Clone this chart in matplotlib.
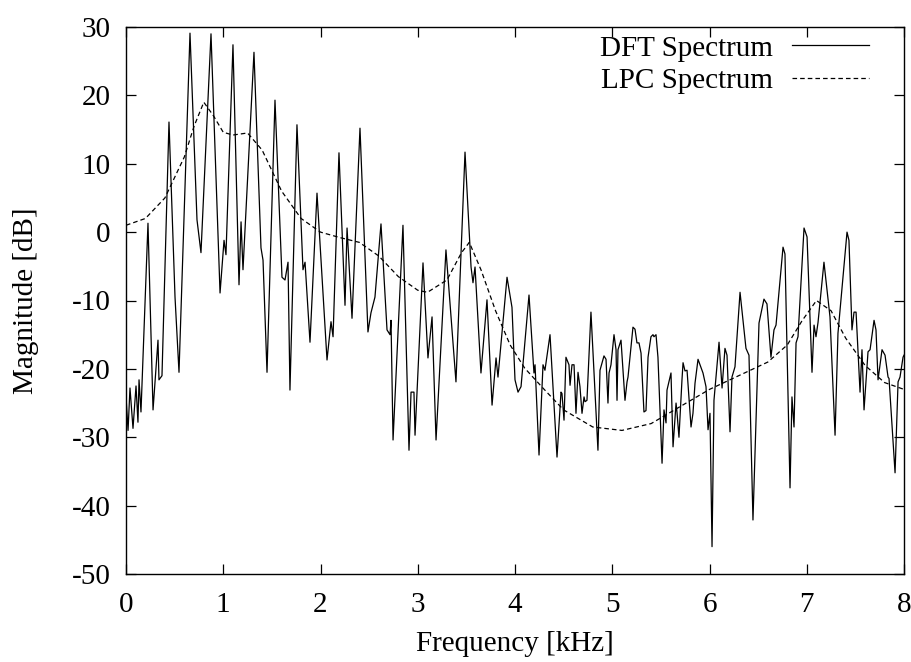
import matplotlib
matplotlib.use("Agg")
import matplotlib.pyplot as plt

# === DFT spectrum (vertices) ===
dft_freq = [
    0.000, 0.021, 0.041, 0.072, 0.103, 0.123, 0.134, 0.154, 0.226, 0.278,
    0.329, 0.339, 0.370, 0.442, 0.504, 0.545, 0.658, 0.730, 0.771, 0.874,
    0.967, 1.008, 1.028, 1.100, 1.162, 1.183, 1.203, 1.316, 1.388, 1.409,
    1.450, 1.532, 1.604, 1.635, 1.666, 1.686, 1.758, 1.820, 1.841, 1.892,
    1.964, 2.067, 2.108, 2.129, 2.190, 2.252, 2.273, 2.324, 2.406, 2.488,
    2.519, 2.560, 2.622, 2.684, 2.715, 2.725, 2.746, 2.848, 2.910, 2.931,
    2.961, 2.972, 3.054, 3.105, 3.147, 3.188, 3.290, 3.393, 3.486, 3.548,
    3.568, 3.589, 3.650, 3.712, 3.764, 3.805, 3.825, 3.918, 3.969, 4.000,
    4.031, 4.062, 4.144, 4.195, 4.206, 4.247, 4.288, 4.308, 4.360, 4.432,
    4.473, 4.483, 4.504, 4.524, 4.555, 4.566, 4.586, 4.607, 4.627, 4.648,
    4.668, 4.689, 4.710, 4.720, 4.740, 4.781, 4.853, 4.874, 4.915, 4.936,
    4.956, 4.967, 4.987, 5.018, 5.039, 5.049, 5.059, 5.090, 5.131, 5.152,
    5.162, 5.213, 5.234, 5.254, 5.275, 5.296, 5.326, 5.347, 5.368, 5.398,
    5.419, 5.429, 5.450, 5.470, 5.512, 5.532, 5.553, 5.563, 5.604, 5.625,
    5.656, 5.666, 5.686, 5.717, 5.728, 5.748, 5.769, 5.810, 5.830, 5.851,
    5.882, 5.933, 5.964, 5.985, 6.005, 6.026, 6.046, 6.098, 6.129, 6.159,
    6.180, 6.211, 6.231, 6.262, 6.314, 6.375, 6.406, 6.447, 6.509, 6.560,
    6.591, 6.632, 6.663, 6.684, 6.756, 6.776, 6.828, 6.848, 6.869, 6.890,
    6.910, 6.972, 7.003, 7.054, 7.075, 7.095, 7.116, 7.177, 7.239, 7.291,
    7.321, 7.414, 7.434, 7.465, 7.486, 7.507, 7.548, 7.568, 7.589, 7.630,
    7.651, 7.692, 7.712, 7.733, 7.774, 7.805, 7.836, 7.846, 7.908, 7.939,
    7.959, 7.990, 8.000,
]
dft_db = [
    -24.0, -29.0, -22.8, -28.7, -22.5, -27.8, -21.6, -26.3, 1.3, -26.0,
    -15.8, -21.6, -21.0, 16.1, -9.5, -20.5, 29.1, 1.8, -3.0, 29.0,
    -8.9, -1.2, -3.3, 27.4, -7.7, 1.5, -5.5, 26.3, -2.3, -4.1,
    -20.5, 19.3, -6.6, -7.0, -4.4, -23.1, 15.7, -5.5, -4.4, -16.1,
    5.7, -18.7, -13.1, -15.3, 11.6, -10.7, 0.6, -12.6, 15.2, -14.6,
    -11.8, -9.5, 1.2, -14.3, -15.0, -12.9, -30.4, 1.0, -31.9, -23.4,
    -23.4, -29.7, -4.5, -18.4, -12.4, -30.4, -2.6, -21.9, 11.7, -5.1,
    -7.4, -5.1, -20.6, -9.9, -25.3, -18.4, -21.2, -6.6, -11.0, -21.6,
    -23.4, -22.6, -9.2, -20.6, -19.4, -32.6, -19.4, -20.2, -15.0, -32.9,
    -23.4, -23.6, -27.5, -18.3, -19.4, -22.4, -19.4, -19.4, -26.5, -20.5,
    -22.6, -26.5, -24.1, -24.8, -24.6, -11.7, -31.9, -20.2, -18.1, -18.6,
    -25.0, -20.6, -19.4, -15.0, -17.2, -24.6, -17.2, -15.8, -24.6, -21.9,
    -21.2, -13.9, -14.2, -16.2, -16.2, -17.7, -26.3, -26.1, -18.3, -15.3,
    -15.0, -15.3, -15.0, -18.3, -33.8, -26.0, -27.9, -23.1, -20.6, -31.4,
    -25.0, -26.4, -30.0, -21.6, -19.1, -20.3, -20.2, -28.5, -26.5, -22.1,
    -18.6, -20.6, -22.6, -28.9, -26.5, -46.0, -24.6, -16.1, -22.8, -17.0,
    -18.0, -29.2, -21.2, -19.7, -8.8, -17.0, -18.0, -42.1, -13.3, -9.8,
    -10.5, -18.3, -14.3, -13.6, -2.2, -3.2, -37.4, -24.1, -28.5, -16.2,
    -15.3, 0.6, -0.7, -20.5, -13.6, -15.3, -13.2, -4.4, -12.4, -29.7,
    -14.8, 0.0, -1.2, -14.3, -11.7, -11.7, -23.4, -17.2, -26.0, -17.5,
    -17.2, -12.9, -14.3, -21.6, -17.2, -18.0, -21.2, -21.4, -35.2, -21.9,
    -21.2, -18.3, -18.0,
]

# === LPC envelope ===
lpc_freq = [0.0, 0.2, 0.4, 0.6, 0.7, 0.8, 0.9, 1.0, 1.1, 1.25, 1.4, 1.6, 1.8,
            2.0, 2.2, 2.4, 2.6, 2.8, 3.0, 3.1, 3.3, 3.45, 3.53, 3.65, 3.8,
            3.95, 4.1, 4.3, 4.5, 4.8, 5.1, 5.4, 5.7, 6.0, 6.3, 6.6, 6.8,
            6.95, 7.1, 7.25, 7.4, 7.6, 7.8, 8.0]
lpc_db = [1.0, 2.0, 5.0, 11.0, 15.5, 19.0, 17.0, 14.6, 14.2, 14.5, 12.0, 6.0,
          2.0, 0.0, -0.8, -1.5, -3.5, -6.5, -8.5, -8.8, -7.0, -3.0, -1.5,
          -5.5, -11.5, -16.5, -19.9, -23.0, -26.0, -28.5, -29.0, -28.0,
          -25.5, -23.0, -21.0, -19.0, -16.5, -13.0, -10.0, -11.5, -15.5,
          -19.5, -22.0, -23.0]

x_ticks = [0, 1, 2, 3, 4, 5, 6, 7, 8]
y_ticks = [-50, -40, -30, -20, -10, 0, 10, 20, 30]

plt.rcParams.update({
    "font.family": ["Liberation Serif", "DejaVu Serif"],
    "font.size": 21,
    "axes.unicode_minus": False,
    "lines.scale_dashes": False,
})

fig = plt.figure(figsize=(9.12, 6.62), dpi=100)
ax = fig.add_axes([126 / 912, 88 / 662, 778 / 912, 547 / 662])

ax.plot(dft_freq, dft_db, color="black", linewidth=0.9, label="DFT Spectrum")
ax.plot(lpc_freq, lpc_db, color="black", linewidth=0.9,
        linestyle=(0, (3.3, 2.2)), label="LPC Spectrum")

ax.set_xlim(0, 8)
ax.set_ylim(-50, 30)
ax.set_xticks(x_ticks)
ax.set_yticks(y_ticks)
ax.tick_params(direction="in", length=7, width=0.9, top=True, right=True)
ax.tick_params(axis="x", pad=13)
ax.tick_params(axis="y", pad=11)
for s in ax.spines.values():
    s.set_linewidth(1.0)

ax.set_xlabel("Frequency [kHz]", labelpad=9)
ax.set_ylabel("Magnitude [dB]", labelpad=24)

ax.legend(loc="upper right", bbox_to_anchor=(0.955, 0.985), frameon=False,
          markerfirst=False, handlelength=2.65, handletextpad=0.65,
          labelspacing=0.22, borderpad=0, borderaxespad=0)

fig.savefig("out.png", dpi=100)
